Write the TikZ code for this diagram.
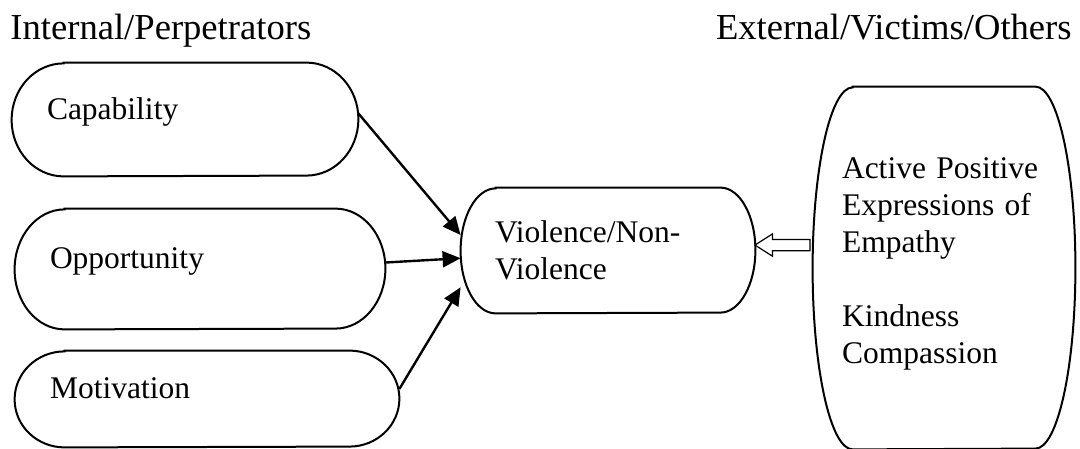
\documentclass[tikz,border=0pt]{standalone}
\usepackage{fontspec}
\setmainfont{Liberation Serif}
\usetikzlibrary{arrows.meta,calc,shapes.arrows}

\begin{document}
\begin{tikzpicture}[
  x=0.5pt, y=0.5pt,
  font=\fontsize{15.75}{18.5}\selectfont,
  head/.style={font=\fontsize{18.3}{22}\selectfont, inner sep=0pt},
  pill/.style={inner xsep=17.5pt, inner ysep=0pt, align=left},
  oneline/.style={text height=0pt, text depth=0pt},
  outline/.style={draw=black, line width=1pt},
  edge/.style={draw=black, line width=1.2pt, -{Triangle[length=9pt,width=8pt]}},
  feed/.style={single arrow, draw=black, fill=white, line width=0.6pt, shape border rotate=180,
               inner xsep=0pt, inner ysep=2.5pt, minimum height=27.5pt, minimum width=10.5pt,
               single arrow head extend=2.75pt, single arrow tip angle=65}
]
\useasboundingbox (0,0) rectangle (1080,449);
% headings
\node[head, anchor=base west] (inner) at (10,409) {Internal/Perpetrators};
\node[head, anchor=base east] (outer) at (1072,409) {External/Victims/Others};
% left column
\node[pill, oneline, text width=138pt, minimum height=56.5pt] (cap) at (185,329.5) {Capability};
\node[pill, oneline, text width=150pt, minimum height=60pt] (opp) at (200,180) {Opportunity};
\node[pill, oneline, text width=157pt, minimum height=48pt] (mot) at (207,50) {Motivation};
% centre and right
\node[pill, inner xsep=17pt, text width=113pt, minimum height=62.5pt] (vio) at (608,198.5) {Violence/Non-\\Violence};
\node[pill, inner xsep=14.5pt, text width=102pt, minimum height=181pt, text depth=100pt] (emp) at (944,181)
  {Active Positive\\Expressions of\\Empathy\\[18.5pt]Kindness\\Compassion};
% outlines with elliptic ends
\foreach \n/\rx/\ry in {cap/52/56.5, opp/50/60, mot/50/48, vio/35/62.5, emp/40/181}
  \draw[outline] ($(\n.north west)+(\rx,0)$) -- ($(\n.north east)+(-\rx,0)$)
    arc[start angle=90, end angle=-90, x radius=\rx, y radius=\ry]
    -- ($(\n.south west)+(\rx,0)$)
    arc[start angle=270, end angle=90, x radius=\rx, y radius=\ry] -- cycle;
% connectors
\draw[edge] (cap.2) -- (vio.174);
\draw[edge] (opp.2) -- (vio.183);
\draw[edge] (mot.3) -- (vio.194);
\node[feed] (fb) at ($(vio.2)!0.55!(emp.170)$) {};
\end{tikzpicture}
\end{document}
